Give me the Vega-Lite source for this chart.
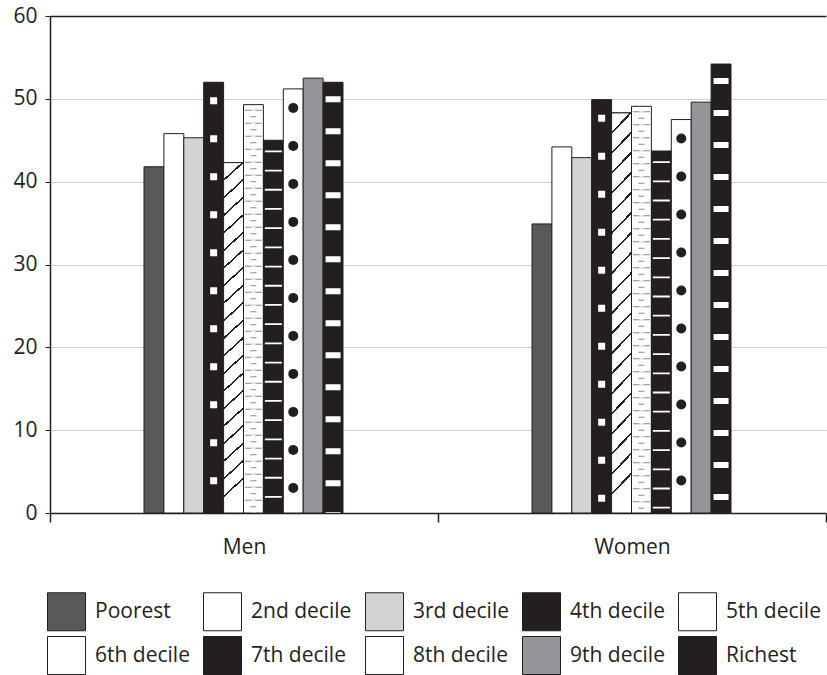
{
  "$schema": "https://vega.github.io/schema/vega-lite/v6.json",
  "width": 776,
  "height": 497,
  "autosize": {"type": "none"},
  "padding": {"left": 50, "top": 16, "right": 1, "bottom": 162},
  "background": "white",
  "config": {
    "view": {"stroke": null},
    "font": "Open Sans",
    "axis": {"labelFont": "Open Sans", "labelFontSize": 21, "labelColor": "#231f20", "domainColor": "#231f20", "tickColor": "#231f20", "title": null}
  },
  "data": {
    "values": [
      {"group": "Men", "decile": "Poorest", "value": 41.8},
      {"group": "Men", "decile": "2nd decile", "value": 45.8},
      {"group": "Men", "decile": "3rd decile", "value": 45.3},
      {"group": "Men", "decile": "4th decile", "value": 52.0},
      {"group": "Men", "decile": "5th decile", "value": 42.3},
      {"group": "Men", "decile": "6th decile", "value": 49.3},
      {"group": "Men", "decile": "7th decile", "value": 45.0},
      {"group": "Men", "decile": "8th decile", "value": 51.2},
      {"group": "Men", "decile": "9th decile", "value": 52.5},
      {"group": "Men", "decile": "Richest", "value": 52.0},
      {"group": "Women", "decile": "Poorest", "value": 34.9},
      {"group": "Women", "decile": "2nd decile", "value": 44.2},
      {"group": "Women", "decile": "3rd decile", "value": 42.9},
      {"group": "Women", "decile": "4th decile", "value": 49.9},
      {"group": "Women", "decile": "5th decile", "value": 48.3},
      {"group": "Women", "decile": "6th decile", "value": 49.1},
      {"group": "Women", "decile": "7th decile", "value": 43.7},
      {"group": "Women", "decile": "8th decile", "value": 47.5},
      {"group": "Women", "decile": "9th decile", "value": 49.6},
      {"group": "Women", "decile": "Richest", "value": 54.2}
    ]
  },
  "encoding": {
    "x": {
      "field": "group", "type": "nominal",
      "scale": {"paddingInner": 0, "paddingOuter": 0},
      "axis": {"labelAngle": 0, "tickBand": "extent", "tickSize": 9, "tickWidth": 1.5, "domainWidth": 1.5, "labelPadding": 14, "grid": false}
    },
    "xOffset": {
      "field": "decile", "type": "nominal",
      "scale": {"domain": ["Poorest", "2nd decile", "3rd decile", "4th decile", "5th decile", "6th decile", "7th decile", "8th decile", "9th decile", "Richest"], "paddingInner": 0, "paddingOuter": 0, "range": [94, 293]}
    },
    "y": {
      "field": "value", "type": "quantitative",
      "scale": {"domain": [0, 60]},
      "axis": {
        "values": [0, 10, 20, 30, 40, 50, 60],
        "grid": true,
        "gridColor": {"condition": {"test": "datum.value === 60", "value": "#231f20"}, "value": "#cfcfcf"},
        "gridWidth": {"condition": {"test": "datum.value === 60", "value": 1.5}, "value": 1},
        "tickSize": 5, "tickWidth": 1, "domainWidth": 1.5, "labelPadding": 8
      }
    }
  },
  "layer": [
    {
      "mark": {"type": "bar", "stroke": "#231f20", "strokeWidth": 1},
      "encoding": {
        "fill": {
          "field": "decile", "type": "nominal",
          "scale": {
            "domain": ["Poorest", "2nd decile", "3rd decile", "4th decile", "5th decile", "6th decile", "7th decile", "8th decile", "9th decile", "Richest"],
            "range": ["#58595b", "#ffffff", "#d1d3d4", "#231f20", "#ffffff", "#ffffff", "#231f20", "#ffffff", "#939598", "#231f20"]
          },
          "legend": null
        }
      }
    },
    {
      "transform": [{"filter": "datum.decile === '5th decile'"}],
      "mark": {"type": "bar", "stroke": "#231f20", "strokeWidth": 1,
        "fill": {"gradient": "linear", "x1": 0, "y1": 0, "x2": 0.052, "y2": 1, "stops": [
          {"offset": 0, "color": "#ffffff"},
          {"offset": 0.047, "color": "#ffffff"}, {"offset": 0.047, "color": "#231f20"}, {"offset": 0.053, "color": "#231f20"}, {"offset": 0.053, "color": "#ffffff"},
          {"offset": 0.097, "color": "#ffffff"}, {"offset": 0.097, "color": "#231f20"}, {"offset": 0.103, "color": "#231f20"}, {"offset": 0.103, "color": "#ffffff"},
          {"offset": 0.147, "color": "#ffffff"}, {"offset": 0.147, "color": "#231f20"}, {"offset": 0.153, "color": "#231f20"}, {"offset": 0.153, "color": "#ffffff"},
          {"offset": 0.197, "color": "#ffffff"}, {"offset": 0.197, "color": "#231f20"}, {"offset": 0.203, "color": "#231f20"}, {"offset": 0.203, "color": "#ffffff"},
          {"offset": 0.247, "color": "#ffffff"}, {"offset": 0.247, "color": "#231f20"}, {"offset": 0.253, "color": "#231f20"}, {"offset": 0.253, "color": "#ffffff"},
          {"offset": 0.297, "color": "#ffffff"}, {"offset": 0.297, "color": "#231f20"}, {"offset": 0.303, "color": "#231f20"}, {"offset": 0.303, "color": "#ffffff"},
          {"offset": 0.347, "color": "#ffffff"}, {"offset": 0.347, "color": "#231f20"}, {"offset": 0.353, "color": "#231f20"}, {"offset": 0.353, "color": "#ffffff"},
          {"offset": 0.397, "color": "#ffffff"}, {"offset": 0.397, "color": "#231f20"}, {"offset": 0.403, "color": "#231f20"}, {"offset": 0.403, "color": "#ffffff"},
          {"offset": 0.447, "color": "#ffffff"}, {"offset": 0.447, "color": "#231f20"}, {"offset": 0.453, "color": "#231f20"}, {"offset": 0.453, "color": "#ffffff"},
          {"offset": 0.497, "color": "#ffffff"}, {"offset": 0.497, "color": "#231f20"}, {"offset": 0.503, "color": "#231f20"}, {"offset": 0.503, "color": "#ffffff"},
          {"offset": 0.547, "color": "#ffffff"}, {"offset": 0.547, "color": "#231f20"}, {"offset": 0.553, "color": "#231f20"}, {"offset": 0.553, "color": "#ffffff"},
          {"offset": 0.597, "color": "#ffffff"}, {"offset": 0.597, "color": "#231f20"}, {"offset": 0.603, "color": "#231f20"}, {"offset": 0.603, "color": "#ffffff"},
          {"offset": 0.647, "color": "#ffffff"}, {"offset": 0.647, "color": "#231f20"}, {"offset": 0.653, "color": "#231f20"}, {"offset": 0.653, "color": "#ffffff"},
          {"offset": 0.697, "color": "#ffffff"}, {"offset": 0.697, "color": "#231f20"}, {"offset": 0.703, "color": "#231f20"}, {"offset": 0.703, "color": "#ffffff"},
          {"offset": 0.747, "color": "#ffffff"}, {"offset": 0.747, "color": "#231f20"}, {"offset": 0.753, "color": "#231f20"}, {"offset": 0.753, "color": "#ffffff"},
          {"offset": 0.797, "color": "#ffffff"}, {"offset": 0.797, "color": "#231f20"}, {"offset": 0.803, "color": "#231f20"}, {"offset": 0.803, "color": "#ffffff"},
          {"offset": 0.847, "color": "#ffffff"}, {"offset": 0.847, "color": "#231f20"}, {"offset": 0.853, "color": "#231f20"}, {"offset": 0.853, "color": "#ffffff"},
          {"offset": 0.897, "color": "#ffffff"}, {"offset": 0.897, "color": "#231f20"}, {"offset": 0.903, "color": "#231f20"}, {"offset": 0.903, "color": "#ffffff"},
          {"offset": 0.947, "color": "#ffffff"}, {"offset": 0.947, "color": "#231f20"}, {"offset": 0.953, "color": "#231f20"}, {"offset": 0.953, "color": "#ffffff"},
          {"offset": 1, "color": "#ffffff"}
        ]}
      },
      "encoding": {}
    },
    {
      "transform": [{"filter": "datum.decile === '4th decile'"}],
      "mark": {"type": "rule", "stroke": "#ffffff", "strokeWidth": 7, "strokeDash": [7, 31], "strokeDashOffset": 23},
      "encoding": {"y2": {"datum": 0}}
    },
    {
      "transform": [{"filter": "datum.decile === '6th decile'"}],
      "mark": {"type": "rule", "stroke": "#8c8c8c", "strokeWidth": 17, "strokeDash": [1, 12], "strokeDashOffset": 8},
      "encoding": {"y2": {"datum": 0}}
    },
    {
      "transform": [{"filter": "datum.decile === '6th decile'"}],
      "mark": {"type": "rule", "stroke": "#ffffff", "strokeWidth": 4, "strokeDash": [1, 12], "strokeDashOffset": 8},
      "encoding": {"y2": {"datum": 0}}
    },
    {
      "transform": [{"filter": "datum.decile === '6th decile'"}],
      "mark": {"type": "rule", "stroke": "#8c8c8c", "strokeWidth": 6, "strokeDash": [1, 12], "strokeDashOffset": 1.5},
      "encoding": {"y2": {"datum": 0}}
    },
    {
      "transform": [{"filter": "datum.decile === '7th decile'"}],
      "mark": {"type": "rule", "stroke": "#ffffff", "strokeWidth": 17, "strokeDash": [1.8, 17.4], "strokeDashOffset": 9},
      "encoding": {"y2": {"datum": 0}}
    },
    {
      "transform": [{"filter": "datum.decile === '8th decile'"}],
      "mark": {"type": "rule", "stroke": "#231f20", "strokeWidth": 10, "strokeCap": "round", "strokeDash": [0, 38], "strokeDashOffset": 19},
      "encoding": {"y2": {"datum": 0}}
    },
    {
      "transform": [{"filter": "datum.decile === 'Richest'"}],
      "mark": {"type": "rule", "stroke": "#ffffff", "strokeWidth": 15, "strokeDash": [6, 26], "strokeDashOffset": 18},
      "encoding": {"y2": {"datum": 0}}
    },
    {
      "mark": {"type": "point", "filled": true, "opacity": 0, "shape": "square"},
      "encoding": {
        "color": {
          "field": "decile", "type": "nominal",
          "sort": null,
          "scale": {
            "range": ["#58595b", "#ffffff", "#d1d3d4", "#231f20", "#ffffff", "#ffffff", "#231f20", "#ffffff", "#939598", "#231f20"]
          },
          "legend": {
            "title": null,
            "orient": "none",
            "legendX": -3,
            "legendY": 576,
            "direction": "horizontal",
            "columns": 5,
            "symbolType": "square",
            "symbolSize": 1444,
            "symbolOpacity": 1,
            "symbolStrokeColor": "#231f20",
            "symbolStrokeWidth": 1,
            "labelFont": "Open Sans",
            "labelFontSize": 21,
            "labelColor": "#231f20",
            "labelOffset": 9,
            "labelLimit": 300,
            "columnPadding": 11,
            "rowPadding": 1,
            "padding": 0
          }
        }
      }
    }
  ]
}
